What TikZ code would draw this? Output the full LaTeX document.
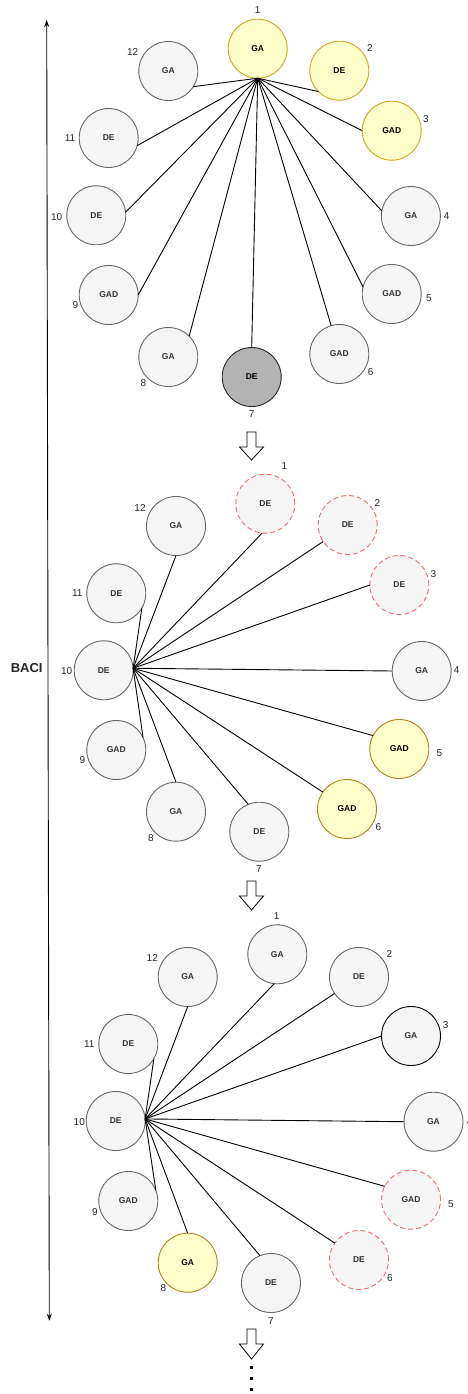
\documentclass[tikz,border=0pt]{standalone}
\usepackage{fontspec}
\setmainfont{Liberation Sans}
\usetikzlibrary{arrows.meta}

\definecolor{ballfill}{HTML}{F5F5F5}
\definecolor{ballline}{HTML}{666666}
\definecolor{balltext}{HTML}{333333}
\definecolor{hotfill}{HTML}{FFFFCC}
\definecolor{hotline}{HTML}{D6A21C}
\definecolor{warmline}{HTML}{C27A17}
\definecolor{pickfill}{HTML}{B3B3B3}
\definecolor{goneline}{HTML}{FF6666}

% hollow block arrow between stages: centre x, top y, tip y
\newcommand\downblock[3]{%
  \draw[stagearrow] (#1-4.5,#2) -- (#1+4.5,#2) -- (#1+4.5,#2+15) -- (#1+12,#2+15)
    -- (#1,#3) -- (#1-12,#2+15) -- (#1-4.5,#2+15) -- cycle;}

\begin{document}
\begin{tikzpicture}[x=1pt,y=-1pt,
  ball/.style={circle, draw=ballline, fill=ballfill, line width=0.9pt,
    minimum size=59pt, inner sep=0pt, outer sep=0pt, text=balltext,
    font=\fontsize{8.5}{10}\selectfont\bfseries},
  hot/.style={fill=hotfill, draw=hotline, text=black},
  warm/.style={fill=hotfill, draw=warmline, text=black},
  picked/.style={fill=pickfill, draw=black!85, text=black},
  gone/.style={draw=goneline, dash pattern=on 5pt off 3pt},
  ringed/.style={draw=black},
  plain/.style={},
  num/.style={font=\fontsize{10}{12}\selectfont, text=black!85, inner sep=0pt},
  spoke/.style={line width=0.9pt, black},
  stagearrow/.style={draw=black, fill=white, line width=0.8pt, line join=miter},
  timeline/.style={line width=0.9pt, black,
    {Stealth[length=7pt,width=5pt]}-{Stealth[length=7pt,width=5pt]}},
]
\useasboundingbox (0,0) rectangle (467,1394);

% ---- stage 1: the chosen ball 1 against all others
\foreach \i/\x/\y/\s/\t/\lx/\ly in {
  1/257.7/48.7/hot/GA/257.7/10,
  2/339.3/70.7/hot/DE/370/48.3,
  3/391.7/130.7/hot/GAD/426/119.3,
  4/410.9/216/plain/GA/446.7/215.7,
  5/391.7/294/plain/GAD/429/298.3,
  6/339.3/354/plain/GAD/370.7/372,
  7/251.7/377/picked/DE/251.7/414.3,
  8/168.3/357/plain/GA/143.3/382.7,
  9/108.7/295/plain/GAD/75.3/305,
  10/96.3/215.3/plain/DE/56.7/216.7,
  11/108.7/138/plain/DE/70/138,
  12/168.3/71/plain/GA/132.7/52.3} {
  \node[ball,\s] (a\i) at (\x,\y) {\t};
  \node[num] (a\i n) at (\lx,\ly) {\i};
}
\foreach \j/\a in {2/225,3/180,4/170,5/166,6/106,7/90,8/45,9/0,10/6,11/345,12/328}
  \draw[spoke] (a1.south) -- (a\j.\a);

% ---- stage 2: ball 10 against all others
\foreach \i/\x/\y/\s/\t/\lx/\ly in {
  1/265.3/503.7/gone/DE/284.3/465.7,
  2/347.7/525/gone/DE/377.3/503.3,
  3/399.3/585/gone/DE/433.3/574.3,
  4/421.7/671/plain/GA/456.7/670.3,
  5/399.3/749/warm/GAD/439.3/753.3,
  6/347/809/warm/GAD/378.3/827.3,
  7/259.3/831.7/plain/DE/259/869.3,
  8/176/811.7/plain/GA/151/837.7,
  9/116.3/750/plain/GAD/82.3/760,
  10/103.7/670.3/plain/DE/66.7/671,
  11/116.3/593.3/plain/DE/77.3/593.3,
  12/176/526/plain/GA/140/507.7} {
  \node[ball,\s] (b\i) at (\x,\y) {\t};
  \node[num] (b\i n) at (\lx,\ly) {\i};
}
\foreach \j/\a in {1/264,2/214,3/180,4/180,5/153,6/145,7/112,8/90,9/25,11/330,12/270}
  \draw[spoke] (b10.4) -- (b\j.\a);

% ---- stage 3: ball 10 again
\foreach \i/\x/\y/\s/\t/\lx/\ly in {
  1/277.3/954.3/plain/GA/276.7/916,
  2/359/977/plain/DE/389.3/954.3,
  3/411/1036/ringed/GA/445.7/1025.3,
  4/433.5/1121.7/plain/GA/469.5/1121.7,
  5/411/1199.7/gone/GAD/451/1204.3,
  6/359/1260/gone/DE/390/1278.3,
  7/271/1283/plain/DE/271/1320.7,
  8/187.7/1262.7/warm/GA/163.3/1288.3,
  9/128.3/1201/plain/GAD/95/1211.7,
  10/115.7/1121/plain/DE/79.3/1122.3,
  11/128.3/1044/plain/DE/89.3/1044.3,
  12/187.7/977/plain/GA/152.3/958.3} {
  \node[ball,\s] (c\i) at (\x,\y) {\t};
  \node[num] (c\i n) at (\lx,\ly) {\i};
}
\foreach \j/\a in {1/264,2/214,3/180,4/180,5/153,6/145,7/112,8/90,9/21,11/330,12/270}
  \draw[spoke] (c10.4) -- (c\j.\a);

% ---- arrows between the stages, and the continuation dots
\downblock{251.5}{432}{460}
\downblock{251.5}{881}{910}
\downblock{251.5}{1329}{1359}
\foreach \yy in {1367.5,1378.5,1389}
  \fill[black] (250,\yy-1.5) rectangle (253,\yy+1.5);

% ---- time axis on the left
\coordinate (axtop) at (46.7,20);
\coordinate (axbot) at (49.3,1320.7);
\draw[timeline] (axtop) -- (axbot);
\node[font=\fontsize{13}{15}\selectfont\bfseries, text=black!85] (baci) at (26.7,668.3) {BACI};
\end{tikzpicture}
\end{document}
